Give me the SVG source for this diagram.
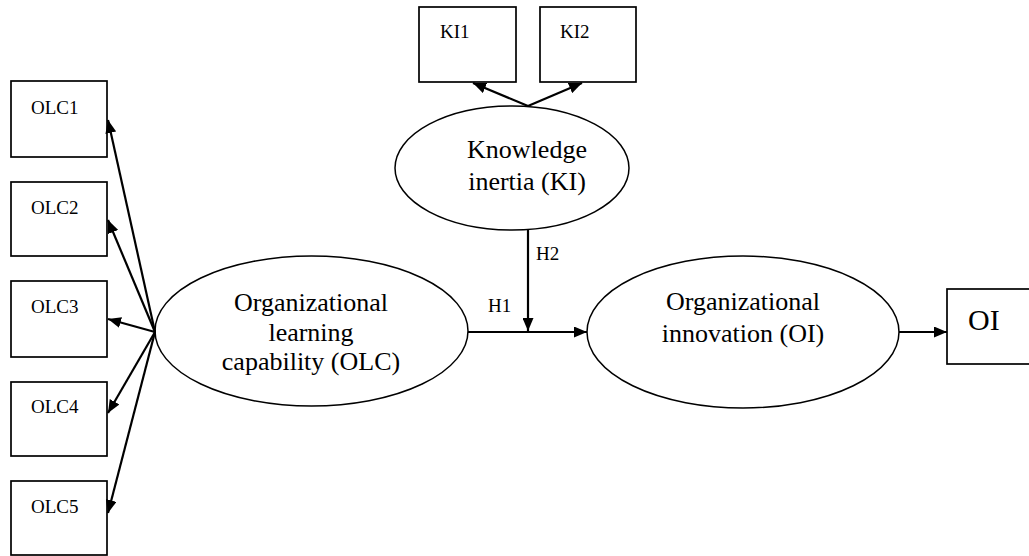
<svg xmlns="http://www.w3.org/2000/svg" width="1029" height="556" viewBox="0 0 1029 556">
<style>
.box{fill:#fff;stroke:#000;stroke-width:1.7}
.ell{fill:#fff;stroke:#000;stroke-width:1.5}
.t{font-family:"Liberation Serif","Times New Roman",serif;fill:#000}
.s{font-size:19px}
.l{font-size:26px;text-anchor:middle}
.c{fill:none;stroke:#000;stroke-width:2.2}
</style>
<defs>
<marker id="ah" markerUnits="userSpaceOnUse" markerWidth="13" markerHeight="11" refX="13" refY="5.5" orient="auto">
<path d="M0,0 L13,5.5 L0,11 z" fill="#000"/>
</marker>
</defs>
<rect width="1029" height="556" fill="#fff"/>
<g id="OLC1"><rect class="box" x="11" y="81" width="96" height="76"/><text class="t s" x="31" y="114">OLC1</text></g>
<g id="OLC2"><rect class="box" x="11" y="182" width="96" height="74"/><text class="t s" x="31" y="214">OLC2</text></g>
<g id="OLC3"><rect class="box" x="11" y="281" width="96" height="76"/><text class="t s" x="31" y="313">OLC3</text></g>
<g id="OLC4"><rect class="box" x="11" y="382" width="96" height="74"/><text class="t s" x="31" y="413">OLC4</text></g>
<g id="OLC5"><rect class="box" x="11" y="481" width="96" height="74"/><text class="t s" x="31" y="513">OLC5</text></g>
<g id="KI1"><rect class="box" x="419" y="7" width="97" height="75"/><text class="t s" x="440" y="38">KI1</text></g>
<g id="KI2"><rect class="box" x="540" y="7" width="96" height="75"/><text class="t s" x="560" y="38">KI2</text></g>
<g id="OI"><rect class="box" x="947" y="289" width="95" height="75"/><text class="t" x="968" y="330" font-size="30">OI</text></g>
<g id="KI"><ellipse class="ell" cx="512" cy="168" rx="117" ry="62"/><text class="t l" x="527" y="158">Knowledge</text><text class="t l" x="527" y="190">inertia (KI)</text></g>
<g id="OLC"><ellipse class="ell" cx="311.5" cy="331" rx="156.5" ry="75"/><text class="t l" x="311" y="311">Organizational</text><text class="t l" x="311" y="341">learning</text><text class="t l" x="311" y="370">capability (OLC)</text></g>
<g id="OIL"><ellipse class="ell" cx="743" cy="332" rx="156" ry="76"/><text class="t l" x="743" y="310">Organizational</text><text class="t l" x="743" y="342">innovation (OI)</text></g>
<g id="connectors">
<line class="c" x1="155" y1="332" x2="108" y2="120" marker-end="url(#ah)"/>
<line class="c" x1="155" y1="332" x2="108" y2="220" marker-end="url(#ah)"/>
<line class="c" x1="155" y1="332" x2="108" y2="319" marker-end="url(#ah)"/>
<line class="c" x1="155" y1="332" x2="108" y2="413" marker-end="url(#ah)"/>
<line class="c" x1="155" y1="332" x2="108" y2="513" marker-end="url(#ah)"/>
<line class="c" x1="528" y1="106" x2="473" y2="83" marker-end="url(#ah)"/>
<line class="c" x1="528" y1="106" x2="582" y2="83" marker-end="url(#ah)"/>
<line class="c" x1="528" y1="230" x2="528" y2="331" marker-end="url(#ah)"/>
<line class="c" x1="468" y1="332" x2="587" y2="332" marker-end="url(#ah)"/>
<line class="c" x1="899" y1="332" x2="947" y2="332" marker-end="url(#ah)"/>
<text class="t s" x="536" y="260">H2</text>
<text class="t s" x="488" y="312">H1</text>
</g>
</svg>
